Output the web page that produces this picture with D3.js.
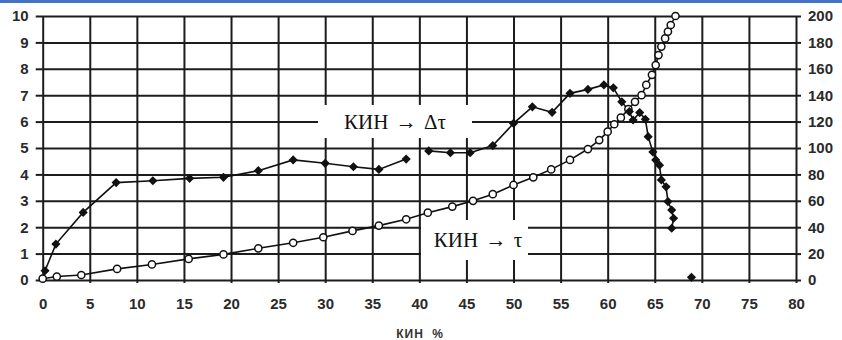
<!DOCTYPE html>
<html>
<meta charset="UTF-8">
<style>
body { margin: 0; background: #fff; }
svg { display: block; }
.grid line { stroke: #1c1c1c; stroke-width: 2px; }
.grid path { display: none; }
.axis path { display: none; }
.axis line { stroke: #1c1c1c; stroke-width: 2px; }
.axis text { font-family: "Liberation Sans", Arial, sans-serif; font-size: 15px; font-weight: bold; fill: #2a2a2a; }
.curve { fill: none; stroke: #111; stroke-width: 1.6px; }
.lbl { font-family: "Liberation Serif", "Times New Roman", serif; font-size: 21px; word-spacing: 2px; fill: #111; }
</style>
<svg width="842" height="340"></svg>
<script src="https://d3js.org/d3.v7.min.js"></script>
<script>
// axis ticks
var xTicks = d3.range(0, 81, 5);
var leftTicks = d3.range(0, 11, 1);
var rightTicks = d3.range(0, 201, 20);

// КИН -> Δτ (filled markers, left axis), two runs of the curve
var dtX1 = [0.25, 1.4, 4.3, 7.8, 11.7, 15.6, 19.2, 22.9, 26.6, 30.0, 33.0, 35.7, 38.6];
var dtY1 = [0.35, 1.36, 2.56, 3.69, 3.76, 3.85, 3.89, 4.14, 4.55, 4.42, 4.29, 4.19, 4.58];
var dtX2 = [41.0, 43.3, 45.4, 47.8, 50.0, 52.0, 54.1, 56.0, 57.9, 59.6, 60.6, 61.5, 62.3, 62.7, 63.4, 64.0, 64.3, 64.8, 65.1, 65.5, 65.7, 66.2, 66.4, 66.8, 67.0, 66.8];
var dtY2 = [4.89, 4.82, 4.82, 5.09, 5.93, 6.56, 6.35, 7.07, 7.22, 7.39, 7.28, 6.75, 6.38, 6.06, 6.34, 6.09, 5.43, 4.85, 4.55, 4.35, 3.79, 3.53, 2.97, 2.65, 2.34, 1.96];
// lone point near the axis
var dtLoneX = [68.9];
var dtLoneY = [0.1];

// КИН -> τ (open circles, right axis)
var tauX = [0, 1.5, 4.1, 7.9, 11.6, 15.5, 19.2, 22.9, 26.6, 29.8, 32.9, 35.7, 38.6, 40.9, 43.5, 45.7, 47.8, 50.0, 52.1, 54.0, 56.0, 57.9, 59.1, 60.0, 60.7, 61.4, 62.2, 62.9, 63.6, 64.1, 64.7, 65.1, 65.4, 65.7, 66.1, 66.4, 66.7, 67.2];
var tauY = [1, 2.6, 3.8, 8.4, 11.8, 16, 19.4, 24, 28.2, 32.4, 37.2, 41.2, 46, 51, 55.6, 60, 65, 72, 77.8, 83.8, 91, 99.2, 106, 112.4, 118, 123, 129.4, 135, 140, 147.8, 155.4, 162.8, 170.4, 176.8, 183, 188.2, 193.2, 200];

var svg = d3.select("svg");
var pL = 42.7, pR = 796, pT = 16, pB = 280;
var w = pR - pL, h = pB - pT;

var x = d3.scaleLinear().domain([0, 80]).range([pL, pR]);
var yL = d3.scaleLinear().domain([0, 10]).range([pB, pT]);
var yR = d3.scaleLinear().domain([0, 200]).range([pB, pT]);

// blue strip across the top
svg.append("rect").attr("x", 0).attr("y", 0).attr("width", 842).attr("height", 3).attr("fill", "#4472c4");

var chart = svg.append("g");

// grid
chart.append("g").attr("class", "grid")
	.attr("transform", "translate(0," + pB + ")")
	.call(d3.axisBottom(x).tickValues(xTicks).tickSize(-h).tickFormat(""));
chart.append("g").attr("class", "grid")
	.attr("transform", "translate(" + pL + ",0)")
	.call(d3.axisLeft(yL).tickValues(leftTicks).tickSize(-w).tickFormat(""));

// axes with short outside ticks
chart.append("g").attr("class", "axis")
	.attr("transform", "translate(" + pL + ",0)")
	.call(d3.axisLeft(yL).tickValues(leftTicks).tickSize(7).tickPadding(7));
chart.append("g").attr("class", "axis")
	.attr("transform", "translate(" + pR + ",0)")
	.call(d3.axisRight(yR).tickValues(rightTicks).tickSize(5).tickPadding(7));
chart.append("g").attr("class", "axis")
	.attr("transform", "translate(0," + pB + ")")
	.call(d3.axisBottom(x).tickValues(xTicks).tickSize(3).tickPadding(15));

svg.append("text")
	.attr("x", 420).attr("y", 338)
	.attr("text-anchor", "middle")
	.style("font-family", "Liberation Sans, Arial, sans-serif")
	.style("font-size", "12px").style("font-weight", "bold").style("letter-spacing", "1px")
	.style("word-spacing", "4px").style("fill", "#333")
	.text("КИН %");

// label boxes that blank out the grid
function label(x0, y0, bw, bh, tx, ty, txt) {
	chart.append("rect").attr("x", x0).attr("y", y0).attr("width", bw).attr("height", bh).attr("fill", "#fff");
	chart.append("text").attr("class", "lbl").attr("x", tx).attr("y", ty).attr("text-anchor", "middle").text(txt);
}
label(318, 105, 154, 33, 395, 129, "КИН → Δτ");
label(421, 220, 107, 40, 478, 247, "КИН → τ");

function zip(a, b) { return a.map(function(v, i) { return [v, b[i]]; }); }

var lineL = d3.line().x(function(d) { return x(d[0]); }).y(function(d) { return yL(d[1]); });
var lineR = d3.line().x(function(d) { return x(d[0]); }).y(function(d) { return yR(d[1]); });

var tau = zip(tauX, tauY);
chart.append("path").attr("class", "curve").attr("d", lineR(tau));

var dt1 = zip(dtX1, dtY1), dt2 = zip(dtX2, dtY2), dtLone = zip(dtLoneX, dtLoneY);
chart.append("path").attr("class", "curve").attr("d", lineL(dt1));
chart.append("path").attr("class", "curve").attr("d", lineL(dt2));

chart.append("g").selectAll("circle").data(tau).enter().append("circle")
	.attr("cx", function(d) { return x(d[0]); })
	.attr("cy", function(d) { return yR(d[1]); })
	.attr("r", 3.6)
	.attr("fill", "#fff").attr("stroke", "#111").attr("stroke-width", 1.5);

// filled markers: squares turned 45 degrees
var marker = d3.symbol().type(d3.symbolSquare).size(42);
chart.append("g").selectAll("path").data(dt1.concat(dt2, dtLone)).enter().append("path")
	.attr("d", marker)
	.attr("transform", function(d) { return "translate(" + x(d[0]) + "," + yL(d[1]) + ") rotate(45)"; })
	.attr("fill", "#111");
</script>
</html>
